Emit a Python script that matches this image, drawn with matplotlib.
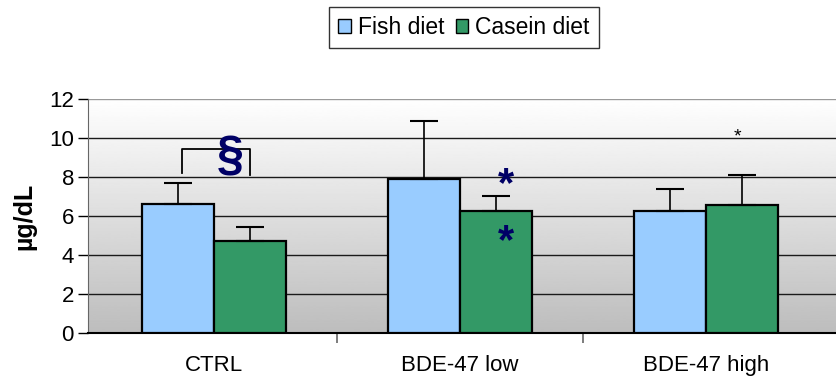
import numpy as np
import matplotlib
matplotlib.use("Agg")
import matplotlib.pyplot as plt
from matplotlib.patches import Patch

plt.rcParams["font.family"] = ["Liberation Sans", "DejaVu Sans"]

# ---- data -------------------------------------------------------------
groups = ["CTRL", "BDE-47 low", "BDE-47 high"]
fish_mean = [6.6, 7.9, 6.25]
fish_err = [1.1, 2.95, 1.15]
casein_mean = [4.7, 6.25, 6.55]
casein_err = [0.75, 0.75, 1.55]
series_names = ["Fish diet", "Casein diet"]
yticks = [0, 2, 4, 6, 8, 10, 12]

FISH = "#99CCFF"
CASEIN = "#339966"
MARK = "#000066"

fig = plt.figure(figsize=(8.36, 3.85), dpi=100)
ax = fig.add_axes([0.105, 0.135, 0.895, 0.608])

x = np.arange(len(groups))
w = 0.293
x0, x1 = -0.515, 2.53

# vertical gradient behind the bars (white at top, grey at the floor)
grad = np.linspace(0.74, 1.0, 256).reshape(-1, 1)
ax.imshow(grad, cmap="gray", vmin=0, vmax=1, aspect="auto",
          extent=[x0, x1, 0, 12], origin="lower", zorder=0)

for y in yticks[1:]:
    ax.axhline(y, color="0.1" if y < 12 else "0.6", lw=1.0, zorder=1)

ax.bar(x - w / 2, fish_mean, w, color=FISH, edgecolor="black", lw=1.6, zorder=3)
ax.bar(x + w / 2, casein_mean, w, color=CASEIN, edgecolor="black", lw=1.6, zorder=3)

# one-sided (upper) error bars
ax.errorbar(x - w / 2, fish_mean, yerr=[np.zeros(3), fish_err], fmt="none",
            ecolor="black", elinewidth=1.2, capsize=10, capthick=1.5, zorder=4)
ax.errorbar(x + w / 2, casein_mean, yerr=[np.zeros(3), casein_err], fmt="none",
            ecolor="black", elinewidth=1.2, capsize=10, capthick=1.5, zorder=4)

ax.set_xlim(x0, x1)
ax.set_ylim(0, 12)
ax.set_yticks(yticks)
ax.set_xticks([0.5, 1.5])
ax.set_xticklabels([])
ax.tick_params(axis="x", length=7, color="0.4", width=1.2)
ax.tick_params(axis="y", length=7, width=1.0, labelsize=16, pad=3)
for i, g in enumerate(groups):
    ax.text(i, -1.15, g, ha="center", va="top", fontsize=16, clip_on=False)

for s in ["top", "right"]:
    ax.spines[s].set_visible(False)
ax.spines["left"].set_color("0.4")
ax.spines["bottom"].set_color("black")
ax.spines["bottom"].set_linewidth(1.5)

ax.set_ylabel("µg/dL", fontsize=18, fontweight="bold", labelpad=9)

# significance markers
ax.plot([-0.133, -0.133, 0.144, 0.144], [8.22, 9.42, 9.42, 8.1],
        color="black", lw=1.3, zorder=5, clip_on=False)
ax.text(0.065, 9.0, "§", ha="center", va="center", fontsize=35,
        fontweight="bold", color=MARK, zorder=6)
ax.text(1.186, 7.6, "*", ha="center", va="center", fontsize=30,
        fontweight="bold", color=MARK, zorder=6)
ax.text(1.186, 4.68, "*", ha="center", va="center", fontsize=30,
        fontweight="bold", color=MARK, zorder=6)
ax.text(2.129, 10.05, "*", ha="center", va="center", fontsize=14,
        color="black", zorder=6)

handles = [Patch(facecolor=FISH, edgecolor="black"),
           Patch(facecolor=CASEIN, edgecolor="black")]
fig.legend(handles, series_names, loc="center", bbox_to_anchor=(0.555, 0.929),
           ncol=2, fontsize=16.5, frameon=True, fancybox=False, edgecolor="black",
           handlelength=0.55, handleheight=0.55, handletextpad=0.3,
           columnspacing=0.5, borderpad=0.4, borderaxespad=0)

fig.savefig("out.png", dpi=100)
